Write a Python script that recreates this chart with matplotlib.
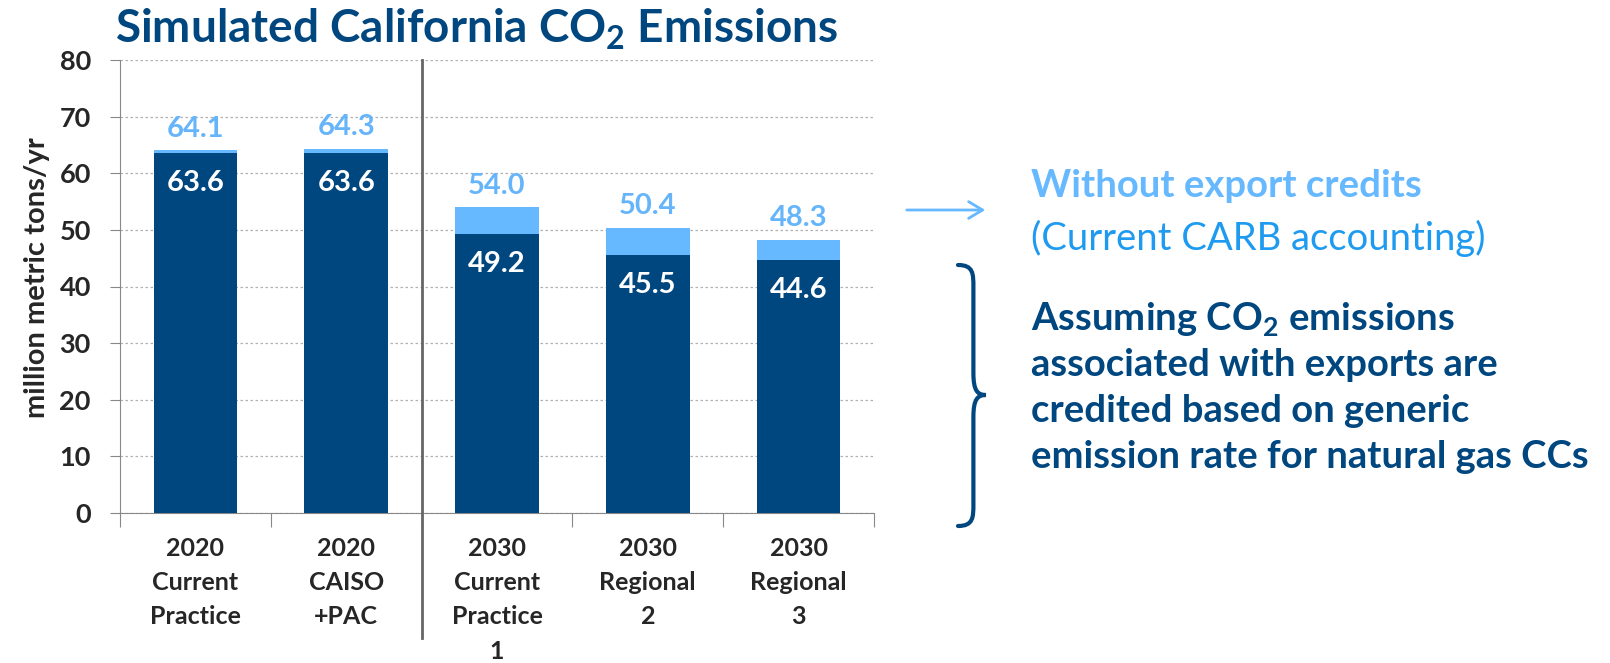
import matplotlib
matplotlib.use("Agg")
import matplotlib.pyplot as plt
from matplotlib.path import Path
from matplotlib.patches import PathPatch, FancyArrowPatch
import numpy as np

# data
categories = ["2020\nCurrent\nPractice", "2020\nCAISO\n+PAC", "2030\nCurrent\nPractice\n1",
              "2030\nRegional\n2", "2030\nRegional\n3"]
with_credits = [63.6, 63.6, 49.2, 45.5, 44.6]
without_credits = [64.1, 64.3, 54.0, 50.4, 48.3]

dark = "#00467F"
light = "#66B8FF"
light_txt = "#66B5FA"
txt = "#262626"

plt.rcParams["font.family"] = ["Lato", "DejaVu Sans"]
plt.rcParams["mathtext.fontset"] = "custom"
plt.rcParams["mathtext.rm"] = "Lato"
plt.rcParams["mathtext.bf"] = "Lato:bold"

W, H = 1610, 663
fig = plt.figure(figsize=(W / 100, H / 100), dpi=100)
ax = fig.add_axes([120 / W, 1 - 513 / H, (874 - 120) / W, (513 - 60) / H])

x = np.arange(len(categories))
top = np.array(without_credits) - np.array(with_credits)
ax.bar(x, with_credits, width=0.555, color=dark, zorder=3)
ax.bar(x, top, bottom=with_credits, width=0.555, color=light, zorder=3)

for i in range(len(categories)):
    ax.annotate(f"{with_credits[i]:.1f}", xy=(x[i], with_credits[i]), xytext=(0, -21.5),
                textcoords="offset points", ha="center", va="center",
                color="white", fontsize=21, fontweight="bold", zorder=4)
    ax.annotate(f"{without_credits[i]:.1f}", xy=(x[i], without_credits[i]), xytext=(0, 15.5),
                textcoords="offset points", ha="center", va="center",
                color=light_txt, fontsize=21, fontweight="bold", zorder=4)

ax.set_xlim(-0.5, 4.5)
ax.set_ylim(0, 80)
ax.set_yticks(range(0, 81, 10))
ax.yaxis.grid(True, linestyle=(0, (2, 2)), color="#b0b0b0", linewidth=0.9, zorder=0)
for s in ["top", "right"]:
    ax.spines[s].set_visible(False)
ax.spines["left"].set_color("#888888")
ax.spines["bottom"].set_color("#888888")
ax.tick_params(axis="y", length=7, color="#888888", pad=14)
ax.set_yticklabels([str(v) for v in range(0, 81, 10)], fontweight="bold", color=txt, fontsize=19.5)

# category boundary ticks
ax.set_xticks(np.arange(-0.5, 5, 1.0))
ax.set_xticklabels([])
ax.tick_params(axis="x", length=10, color="#888888", direction="out")
for i, lab in enumerate(categories):
    ax.annotate(lab, xy=(x[i], 0), xytext=(0, -17), textcoords="offset points",
                ha="center", va="top", fontsize=18, fontweight="bold", color=txt,
                linespacing=1.6, annotation_clip=False)

# separator between 2020 and 2030
ax.plot([1.5, 1.5], [80, -22], color="#666666", linewidth=2, clip_on=False, zorder=5)

ax.set_ylabel("million metric tons/yr", fontsize=21, fontweight="bold", color=txt)
ax.yaxis.set_label_coords(-0.093, 0.52)

fig.text(477 / W, 1 - 29 / H, r"Simulated California CO$_\mathbf{2}$ Emissions", ha="center", va="center",
         fontsize=33, fontweight="bold", color=dark)

# arrow to "without export credits"
fig.patches.append(FancyArrowPatch(
    (904 / W, 1 - 210 / H), (988 / W, 1 - 210 / H), transform=fig.transFigure,
    arrowstyle="->,head_length=10,head_width=6", color=light, linewidth=2))

fig.text(1031 / W, 1 - 186 / H, "Without export credits", ha="left", va="center",
         fontsize=27.5, fontweight="bold", color=light)
fig.text(1031 / W, 1 - 238 / H, "(Current CARB accounting)", ha="left", va="center",
         fontsize=27.5, color="#1E9BF0")

# curly brace
x0, w = 958, 28
yt, yb, ym = 265, 526, 395
r = 22


def pt(px, py):
    return (px / W, 1 - py / H)


verts = [pt(x0, yt),
         pt(x0 + w * 0.55, yt), pt(x0 + w * 0.55, yt + r * 0.4), pt(x0 + w * 0.55, yt + r),
         pt(x0 + w * 0.55, ym - r),
         pt(x0 + w * 0.55, ym - 4), pt(x0 + w * 0.7, ym), pt(x0 + w, ym),
         pt(x0 + w * 0.7, ym), pt(x0 + w * 0.55, ym + 4), pt(x0 + w * 0.55, ym + r),
         pt(x0 + w * 0.55, yb - r),
         pt(x0 + w * 0.55, yb - r * 0.4), pt(x0 + w * 0.55, yb), pt(x0, yb)]
codes = [Path.MOVETO,
         Path.CURVE4, Path.CURVE4, Path.CURVE4,
         Path.LINETO,
         Path.CURVE4, Path.CURVE4, Path.CURVE4,
         Path.CURVE4, Path.CURVE4, Path.CURVE4,
         Path.LINETO,
         Path.CURVE4, Path.CURVE4, Path.CURVE4]
fig.patches.append(PathPatch(Path(verts, codes), transform=fig.transFigure, fill=False,
                             edgecolor=dark, linewidth=3, capstyle="round"))

notes = ["Assuming CO$_\\mathbf{2}$ emissions", "associated with exports are",
         "credited based on generic", "emission rate for natural gas CCs"]
for j, line in enumerate(notes):
    fig.text(1031 / W, 1 - (320 + j * 45.5) / H, line, ha="left", va="center",
             fontsize=27.5, fontweight="bold", color=dark)

fig.savefig("out.png", dpi=100)
